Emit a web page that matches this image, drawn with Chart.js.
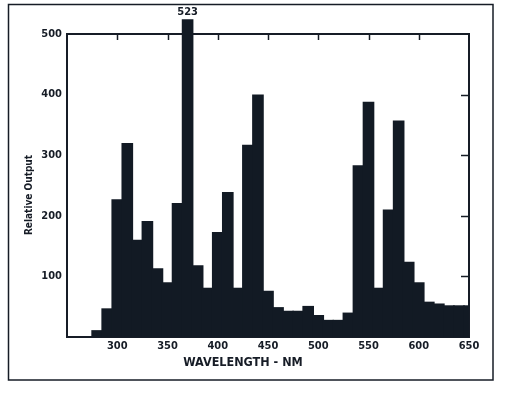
<!DOCTYPE html>
<html>
<head>
<meta charset="utf-8">
<script src="https://cdn.jsdelivr.net/npm/chart.js@4.4.1/dist/chart.umd.min.js"></script>
<style>
  html, body { margin: 0; padding: 0; background: #ffffff; }
  #wrap { position: relative; width: 509px; height: 396px; }
</style>
</head>
<body>
<div id="wrap"><canvas id="c" width="509" height="396"></canvas></div>
<script>
// Wavelength bins (nm, bin centres) and relative output
const wavelengths = [280, 290, 300, 310, 320, 330, 340, 350, 360, 370,
                     380, 390, 400, 410, 420, 430, 440, 450, 460, 470,
                     480, 490, 500, 510, 520, 530, 540, 550, 560, 570,
                     580, 590, 600, 610, 620, 630, 640, 650];
const relOutput   = [10, 46, 226, 319, 159, 190, 112, 89, 220, 523,
                     117, 80, 172, 238, 80, 316, 399, 75, 48, 42,
                     42, 50, 35, 27, 27, 39, 282, 387, 80, 209,
                     356, 123, 89, 57, 54, 51, 51, 51];
const xTickLabels = [300, 350, 400, 450, 500, 550, 600, 650];
const yTickLabels = [100, 200, 300, 400, 500];
const xTitle = 'WAVELENGTH - NM';
const yTitle = 'Relative Output';

const FONT = "'Liberation Sans Narrow', 'DejaVu Sans Condensed', 'Roboto Condensed', Arial, sans-serif";
const INK = '#161c26';
const BAR = '#121a24';

const decor = {
  id: 'decor',
  beforeDraw(chart) {
    const ctx = chart.ctx;
    ctx.save();
    ctx.fillStyle = '#ffffff';
    ctx.fillRect(0, 0, chart.width, chart.height);
    ctx.strokeStyle = INK;
    ctx.lineWidth = 1.5;
    ctx.strokeRect(8.5, 4.5, 484.5, 375.5);
    ctx.restore();
  },
  beforeDatasetsDraw(chart) {
    const ctx = chart.ctx, a = chart.chartArea;
    const xs = chart.scales.x, ys = chart.scales.y;
    ctx.save();
    ctx.strokeStyle = INK;
    ctx.lineWidth = 2;
    ctx.strokeRect(a.left, a.top, a.right - a.left, a.bottom - a.top);
    ctx.lineWidth = 1.5;
    xTickLabels.forEach(v => {
      if (v >= xs.max) return;
      const px = Math.round(xs.getPixelForValue(v)) + 0.5;
      ctx.beginPath(); ctx.moveTo(px, a.top); ctx.lineTo(px, a.top + 6); ctx.stroke();
    });
    yTickLabels.forEach(v => {
      if (v >= ys.max) return;
      const py = Math.round(ys.getPixelForValue(v)) + 0.5;
      ctx.beginPath(); ctx.moveTo(a.right, py); ctx.lineTo(a.right - 8, py); ctx.stroke();
    });
    ctx.restore();
  },
  afterDatasetsDraw(chart) {
    const ctx = chart.ctx;
    const ys = chart.scales.y;
    const meta = chart.getDatasetMeta(0);
    ctx.save();
    ctx.fillStyle = INK;
    ctx.font = 'bold 11px ' + FONT;
    ctx.textAlign = 'center';
    ctx.textBaseline = 'bottom';
    relOutput.forEach((v, i) => {
      if (v > ys.max) {
        const el = meta.data[i];
        ctx.fillText(String(v), el.x, el.y - 2);
      }
    });
    ctx.font = 'bold 12.5px ' + FONT;
    ctx.textBaseline = 'middle';
    ctx.fillText(xTitle, 243, 363);
    ctx.translate(29, 195);
    ctx.rotate(-Math.PI / 2);
    ctx.font = 'bold 10px ' + FONT;
    ctx.fillText(yTitle, 0, 0);
    ctx.restore();
  }
};

new Chart(document.getElementById('c'), {
  type: 'bar',
  data: {
    datasets: [{
      data: wavelengths.map((w, i) => ({ x: w, y: relOutput[i] })),
      backgroundColor: BAR,
      borderWidth: 0,
      inflateAmount: 0.8,
      barPercentage: 1.0,
      categoryPercentage: 1.0,
      clip: { left: 0, top: false, right: 0, bottom: 0 }
    }]
  },
  options: {
    responsive: false,
    animation: false,
    devicePixelRatio: 1,
    layout: { padding: { top: 34, right: 40, bottom: 0, left: 0 } },
    plugins: { legend: { display: false }, tooltip: { enabled: false } },
    scales: {
      x: {
        type: 'linear',
        offset: false,
        min: 250, max: 650,
        grid: { display: false, drawTicks: false, offset: false },
        border: { display: false },
        ticks: {
          stepSize: 50,
          padding: 3,
          color: INK,
          font: { family: FONT, size: 11, weight: 'bold' },
          maxRotation: 0,
          autoSkip: false,
          callback: v => xTickLabels.includes(v) ? String(v) : ''
        },
        afterFit: s => { s.height = 59; }
      },
      y: {
        min: 0, max: 500,
        grid: { display: false, drawTicks: false },
        border: { display: false },
        ticks: {
          stepSize: 100,
          padding: 5,
          color: INK,
          font: { family: FONT, size: 11, weight: 'bold' },
          callback: v => yTickLabels.includes(v) ? String(v) : ''
        },
        afterFit: s => { s.width = 67; }
      }
    }
  },
  plugins: [decor]
});
</script>
</body>
</html>
